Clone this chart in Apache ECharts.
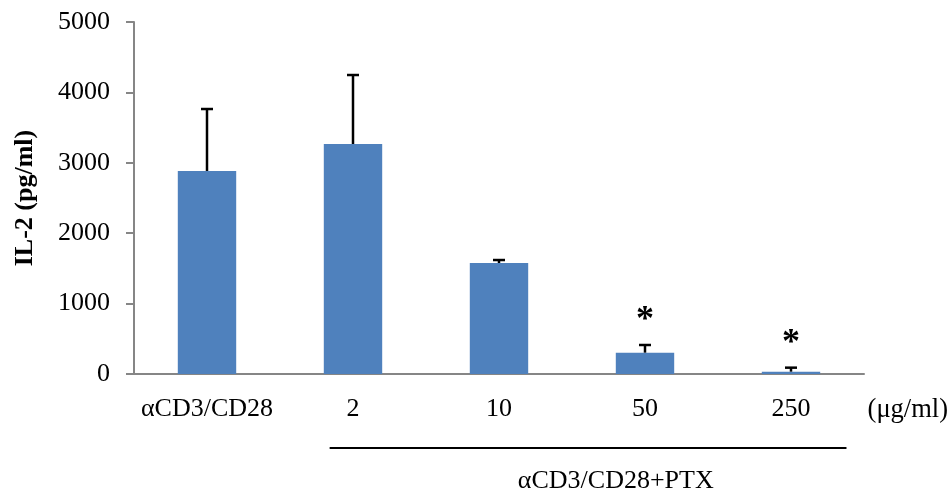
<!DOCTYPE html>
<html><head><meta charset="utf-8">
<script src="https://cdn.jsdelivr.net/npm/echarts@6/dist/echarts.min.js"></script>
<style>html,body{margin:0;padding:0;background:#fff}#c{width:952px;height:492px}</style>
</head><body><div id="c"></div>
<script>
const categories = ['αCD3/CD28', '2', '10', '50', '250'];
const means = [2884, 3267, 1577, 303, 33];
const errors = [880, 980, 42, 109, 57];
const marks = ['', '', '', '*', '*'];
const yTicks = [0, 1000, 2000, 3000, 4000, 5000];
const unitLabel = '(μg/ml)';
const groupLabel = 'αCD3/CD28+PTX';
const yName = 'IL-2 (pg/ml)';

const FONT = '"Liberation Serif","Times New Roman",serif';
const chart = echarts.init(document.getElementById('c'));
const option = {
  animation: false,
  grid: {left: 134, right: 88, top: 22, bottom: 118},
  xAxis: {
    type: 'category', data: categories,
    axisLine: {lineStyle: {color: '#868686', width: 2}},
    axisTick: {show: false},
    axisLabel: {color: '#000', fontFamily: FONT, fontSize: 26, margin: 22, interval: 0}
  },
  yAxis: {
    type: 'value', min: yTicks[0], max: yTicks[yTicks.length-1], interval: 1000,
    name: yName, nameLocation: 'middle', nameGap: 96, nameRotate: 90,
    nameTextStyle: {color: '#000', fontFamily: FONT, fontSize: 26, fontWeight: 'bold'},
    axisLine: {show: true, lineStyle: {color: '#868686', width: 2}},
    axisTick: {show: true, length: 8, lineStyle: {color: '#868686', width: 2}},
    splitLine: {show: false},
    axisLabel: {color: '#000', fontFamily: FONT, fontSize: 26, margin: 24, formatter: v => String(v)}
  },
  series: [
    {type: 'bar', data: means, barWidth: '40%',
     itemStyle: {color: '#4f81bd'}},
    {type: 'custom', z: 5,
     data: means.map((m, i) => [i, m, m + errors[i], marks[i]]),
     renderItem: function(params, api) {
       const x = api.value(0);
       const base = api.coord([x, api.value(1)]);
       const top = api.coord([x, api.value(2)]);
       const cap = 6;
       const children = [
         {type: 'line', shape: {x1: base[0], y1: base[1], x2: top[0], y2: top[1]}, style: {stroke: '#000', lineWidth: 2.5}},
         {type: 'line', shape: {x1: top[0]-cap, y1: top[1], x2: top[0]+cap, y2: top[1]}, style: {stroke: '#000', lineWidth: 2.5}}
       ];
       const mk = api.value(3);
       if (mk) {
         children.push({type: 'text', style: {text: mk, x: top[0], y: top[1] - 24, align: 'center', verticalAlign: 'middle',
           font: 'bold 36px ' + FONT, fill: '#000'}});
       }
       return {type: 'group', children: children};
     }}
  ]
};
chart.setOption(option);
const conv = v => chart.convertToPixel({xAxisIndex: 0, yAxisIndex: 0}, v);
const p1 = conv([1, 0]);
const p4 = conv([4, 0]);
const step = p4[0] - conv([3, 0])[0];
const x0 = p1[0] - step * 0.16, x1 = p4[0] + step * 0.38;
chart.setOption({graphic: [
  {type: 'line', shape: {x1: x0, y1: p1[1] + 74, x2: x1, y2: p1[1] + 74}, style: {stroke: '#000', lineWidth: 2}},
  {type: 'text', style: {text: groupLabel, x: p4[0] - step * 1.2, y: p1[1] + 107, align: 'center', verticalAlign: 'middle', font: '26px ' + FONT, fill: '#000'}},
  {type: 'text', style: {text: unitLabel, x: p4[0] + step * 0.8, y: p1[1] + 36, align: 'center', verticalAlign: 'middle', font: '26.5px ' + FONT, fill: '#000'}}
]});
</script></body></html>
